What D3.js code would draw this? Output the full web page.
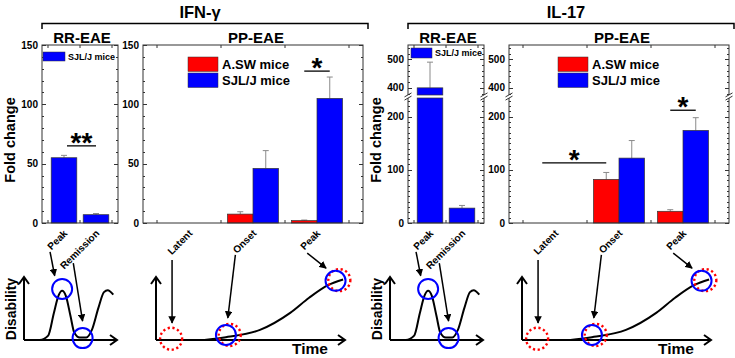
<!DOCTYPE html>
<html>
<head>
<meta charset="utf-8">
<script src="https://cdn.jsdelivr.net/npm/d3@7"></script>
<style>
  body { margin: 0; background: #fff; }
  svg text { font-family: "Liberation Sans", Arial, sans-serif; font-weight: bold; fill: #000; }
</style>
</head>
<body>
<div id="chart"></div>
<script>
// categories
const rrCategories = ["Peak", "Remission"];
const ppCategories = ["Latent", "Onset", "Peak"];
const strains = ["A.SW mice", "SJL/J mice"];

// IFN-gamma fold change (mean, upper error)
const ifnRR = [55, 7];
const ifnRRErr = [2, 1];
const ifnPPASW = [null, 7.5, 2];
const ifnPPASWErr = [null, 2, 0.5];
const ifnPPSJL = [null, 46, 105];
const ifnPPSJLErr = [null, 15, 18];

// IL-17 fold change (mean, upper error)
const ilRR = [400, 28];
const ilRRErr = [90, 5];
const ilPPASW = [null, 82, 22];
const ilPPASWErr = [null, 13, 3];
const ilPPSJL = [null, 122, 174];
const ilPPSJLErr = [null, 33, 24];

// tick labels
const ifnTicks = [0, 50, 100, 150];
const ilLowTicks = [0, 100, 200];
const ilHighTicks = [400, 500];

// significance: [from category, strain index, to category, strain index, value, label]
const ifnRRSig = [["Peak", 0, "Remission", 0, 65, "**"]];
const ifnPPSig = [["Peak", 0, "Peak", 1, 128, "*"]];
const ilPPSig = [["Latent", 0, "Onset", 0, 113, "*"], ["Peak", 0, "Peak", 1, 212, "*"]];

// disease course sketches, in (time, disability) units 0..10
const rrCurve = [[0, 0], [1.7, 0], [2.6, 0.7], [3.2, 4.2], [3.7, 7], [4.1, 7.8], [4.5, 7], [5, 3.8],
                 [5.4, 1.2], [6, 0.4], [6.7, 0.4], [7.3, 1.6], [8, 5.1], [8.6, 7.6], [9, 7.9], [9.6, 7.2]];
const ppCurve = [[0, 0], [2.3, 0], [3.8, 0.5], [5.5, 1.6], [7.1, 4.3], [8.1, 6.7], [9.1, 8.7], [9.9, 9.6]];
const rrArrows = [[2.8, 14, 3.3, 10.2], [5.3, 12.2, 6.3, 3.0]];
const rrSJLCircles = [[4.1, 8.1], [6.3, 0.3]];
const ppArrows = [[0.85, 12.7, 0.85, 2.7], [4.2, 13.5, 3.8, 3.5], [8.0, 13.8, 9.0, 11.4]];
const ppSJLCircles = [[3.7, 0.8], [9.5, 9.4]];
const ppASWCircles = [[0.8, 0.2], [3.9, 0.8], [9.7, 9.5]];

const width = 735, height = 358;
const plotTop = 45, plotBottom = 223;
const red = "#ff0000", blue = "#0000ff";

const svg = d3.select("#chart").append("svg")
  .attr("width", width)
  .attr("height", height);

svg.append("defs").append("marker")
  .attr("id", "head")
  .attr("viewBox", "0 0 10 10")
  .attr("refX", 9).attr("refY", 5)
  .attr("markerWidth", 5).attr("markerHeight", 5)
  .attr("orient", "auto")
  .append("path")
  .attr("d", "M0,0L10,5L0,10z")
  .attr("fill", "#000");

//Y scales: single for IFN, broken for IL-17
function linearY() {
  const s = d3.scaleLinear().domain([0, 150]).range([plotBottom, plotTop]);
  return {
    pos: v => s(v),
    segs: v => [[s(v), s(0)]],
    ticks: [{ scale: s, major: ifnTicks, minor: d3.range(0, 151, 10) }],
    breakAt: null
  };
}

function brokenY() {
  const lo = d3.scaleLinear().domain([0, 235]).range([plotBottom, 98]);
  const hi = d3.scaleLinear().domain([375, 550]).range([95, plotTop]);
  return {
    pos: v => v <= 235 ? lo(v) : hi(v),
    segs: v => v <= 235 ? [[lo(v), lo(0)]] : [[lo(235), lo(0)], [hi(v), hi(375)]],
    ticks: [
      { scale: lo, major: ilLowTicks, minor: d3.range(0, 231, 10) },
      { scale: hi, major: ilHighTicks, minor: d3.range(380, 541, 20) }
    ],
    breakAt: 96.5
  };
}

function drawPanel(p) {
  const g = svg.append("g");
  const x = d3.scaleBand().domain(p.cats).range(p.band);
  if (p.series.length === 1) x.paddingInner(0.2).paddingOuter(0.1);
  const step = x.step();
  const xs = d3.scaleBand()
    .domain(d3.range(p.series.length))
    .range(p.series.length === 1 ? [0, x.bandwidth()] : [6.5, step - 6.5]);
  const center = c => x(c) + x.bandwidth() / 2;
  const barMid = (c, i) => x(c) + xs(i) + xs.bandwidth() / 2;

  //bars
  p.series.forEach((s, i) => {
    const data = p.cats.map((c, j) => ({ c, v: s.values[j], e: s.errs[j] }))
      .filter(d => d.v != null);

    //error bars (upper only)
    const err = g.append("g").attr("stroke", "#8a8a8a").attr("stroke-width", 1);
    err.selectAll("line.v").data(data).join("line")
      .attr("class", "v")
      .attr("x1", d => barMid(d.c, i)).attr("x2", d => barMid(d.c, i))
      .attr("y1", d => p.y.pos(d.v)).attr("y2", d => p.y.pos(d.v + d.e));
    err.selectAll("line.cap").data(data).join("line")
      .attr("class", "cap")
      .attr("x1", d => barMid(d.c, i) - 3).attr("x2", d => barMid(d.c, i) + 3)
      .attr("y1", d => p.y.pos(d.v + d.e)).attr("y2", d => p.y.pos(d.v + d.e));

    const segs = data.flatMap(d => p.y.segs(d.v).map(sg => ({ c: d.c, y0: sg[0], y1: sg[1] })));
    g.selectAll(null).data(segs).join("rect")
      .attr("x", d => x(d.c) + xs(i))
      .attr("width", xs.bandwidth())
      .attr("y", d => d.y0)
      .attr("height", d => Math.max(0.8, d.y1 - d.y0))
      .attr("fill", s.color)
      .attr("stroke", "#333")
      .attr("stroke-width", 0.7);
  });

  //frame
  const [x0, x1] = p.box;
  g.append("rect")
    .attr("x", x0).attr("y", plotTop)
    .attr("width", x1 - x0).attr("height", plotBottom - plotTop)
    .attr("fill", "none")
    .attr("stroke", "#333")
    .attr("stroke-width", 1);

  //inward ticks on left and right
  const tk = g.append("g").attr("stroke", "#333").attr("stroke-width", 1);
  p.y.ticks.forEach(t => {
    t.minor.forEach(v => {
      const len = t.major.includes(v) ? 4 : 2;
      const yy = Math.round(t.scale(v)) + 0.5;
      tk.append("line").attr("x1", x0).attr("x2", x0 + len).attr("y1", yy).attr("y2", yy);
      tk.append("line").attr("x1", x1).attr("x2", x1 - len).attr("y1", yy).attr("y2", yy);
    });
    g.selectAll(null).data(t.major).join("text")
      .attr("x", x0 - 4)
      .attr("y", v => t.scale(v) + 3.5)
      .attr("text-anchor", "end")
      .attr("font-size", 10)
      .text(v => v);
  });

  //ticks on category boundaries, top and bottom
  const bounds = d3.range(p.cats.length + 1).map(i => p.band[0] + i * step);
  bounds.forEach(b => {
    tk.append("line").attr("x1", b).attr("x2", b).attr("y1", plotTop).attr("y2", plotTop + 3);
    tk.append("line").attr("x1", b).attr("x2", b).attr("y1", plotBottom).attr("y2", plotBottom - 3);
  });

  //axis break marks
  if (p.y.breakAt) {
    [x0, x1].forEach(xx => {
      g.append("rect")
        .attr("x", xx - 2).attr("y", p.y.breakAt - 1.5)
        .attr("width", 4).attr("height", 3)
        .attr("fill", "#fff");
      [-1.6, 1.6].forEach(dy => {
        g.append("line")
          .attr("x1", xx - 3.5).attr("y1", p.y.breakAt + dy + 2)
          .attr("x2", xx + 3.5).attr("y2", p.y.breakAt + dy - 2)
          .attr("stroke", "#333").attr("stroke-width", 1);
      });
    });
  }

  //category labels
  g.selectAll(null).data(p.cats).join("text")
    .attr("transform", c => `translate(${center(c) + 4},234) rotate(-45)`)
    .attr("text-anchor", "end")
    .attr("font-size", 10)
    .text(c => c);

  //panel title
  g.append("text")
    .attr("x", (x0 + x1) / 2 + p.titleDx)
    .attr("y", 43)
    .attr("text-anchor", "middle")
    .attr("font-size", 15)
    .text(p.title);

  //legend
  const L = p.legend;
  p.series.forEach((s, i) => {
    g.append("rect")
      .attr("x", L.x).attr("y", L.y + i * L.dy)
      .attr("width", L.w).attr("height", L.h)
      .attr("fill", s.color)
      .attr("stroke", "#333").attr("stroke-width", 0.5);
    g.append("text")
      .attr("x", L.x + L.w + L.gap)
      .attr("y", L.y + i * L.dy + L.h / 2 + L.fs * 0.36)
      .attr("font-size", L.fs)
      .text(s.name);
  });

  //significance
  const fs = 28;
  p.sig.forEach(([c0, i0, c1, i1, v, lab]) => {
    const a = p.series.length === 1 ? center(c0) + 3 : barMid(c0, i0);
    const b = p.series.length === 1 ? center(c1) : barMid(c1, i1);
    const yy = p.y.pos(v);
    g.append("line")
      .attr("x1", a).attr("x2", b).attr("y1", yy).attr("y2", yy)
      .attr("stroke", "#000").attr("stroke-width", 1.3);
    g.append("text")
      .attr("x", (a + b) / 2)
      .attr("y", yy - 6 + fs * 0.43)
      .attr("text-anchor", "middle")
      .attr("font-size", fs)
      .text(lab);
  });

  //y title
  if (p.yTitle) {
    g.append("text")
      .attr("transform", `translate(${x0 - 27},140) rotate(-90)`)
      .attr("text-anchor", "middle")
      .attr("font-size", 14.5)
      .text("Fold change");
  }
}

function drawSketch(x0, x1, curve, arrows, sjl, asw, withTime) {
  const g = svg.append("g");
  const t = d3.scaleLinear().domain([0, 10]).range([x0, x1]);
  const d = d3.scaleLinear().domain([0, 10]).range([340, 277]);

  //axes with open arrowheads
  g.append("path")
    .attr("d", `M${x0},${d(0)}V${d(10)}M${x0},${d(0)}H${x1}` +
      `M${x0 - 5},${d(10) + 7}L${x0},${d(10)}L${x0 + 5},${d(10) + 7}` +
      `M${x1 - 7},${d(0) - 5}L${x1},${d(0)}L${x1 - 7},${d(0) + 5}`)
    .attr("fill", "none")
    .attr("stroke", "#000")
    .attr("stroke-width", 2);

  g.append("path")
    .datum(curve)
    .attr("d", d3.line().x(p => t(p[0])).y(p => d(p[1])).curve(d3.curveMonotoneX))
    .attr("fill", "none")
    .attr("stroke", "#000")
    .attr("stroke-width", 2);

  g.selectAll(null).data(asw).join("circle")
    .attr("cx", p => t(p[0])).attr("cy", p => d(p[1]))
    .attr("r", 11)
    .attr("fill", "none")
    .attr("stroke", red)
    .attr("stroke-width", 2.4)
    .attr("stroke-dasharray", "2.2 2.6");

  g.selectAll(null).data(sjl).join("circle")
    .attr("cx", p => t(p[0])).attr("cy", p => d(p[1]))
    .attr("r", 10)
    .attr("fill", "none")
    .attr("stroke", blue)
    .attr("stroke-width", 2);

  g.selectAll(null).data(arrows).join("line")
    .attr("x1", a => t(a[0])).attr("y1", a => d(a[1]))
    .attr("x2", a => t(a[2])).attr("y2", a => d(a[3]))
    .attr("stroke", "#000")
    .attr("stroke-width", 1.5)
    .attr("marker-end", "url(#head)");

  if (withTime) {
    g.append("text")
      .attr("x", x1 - 35).attr("y", 354)
      .attr("text-anchor", "middle")
      .attr("font-size", 15.5)
      .text("Time");
  } else {
    g.append("text")
      .attr("transform", `translate(${x0 - 8},309) rotate(-90)`)
      .attr("text-anchor", "middle")
      .attr("font-size", 14)
      .text("Disability");
  }
}

function drawHalf(off, title, y, rr, rrErr, ppA, ppAErr, ppS, ppSErr, rrSig, ppSig, leg) {
  //group title and bracket
  svg.append("text")
    .attr("x", 200 + off).attr("y", 18)
    .attr("text-anchor", "middle")
    .attr("font-size", 16.5)
    .text(title);
  svg.append("path")
    .attr("d", `M${42 + off},29V23.5H${368 + off}V29`)
    .attr("fill", "none")
    .attr("stroke", "#000")
    .attr("stroke-width", 1.5);

  drawPanel({
    box: [42 + off, 118 + off], band: [48 + off, 112 + off],
    cats: rrCategories, y, title: "RR-EAE", titleDx: 2, yTitle: true,
    series: [{ name: strains[1], values: rr, errs: rrErr, color: blue }],
    legend: leg.rr, sig: rrSig
  });
  drawPanel({
    box: [143 + off, 363 + off], band: [157 + off, 349 + off],
    cats: ppCategories, y, title: "PP-EAE", titleDx: 3, yTitle: false,
    series: [
      { name: strains[0], values: ppA, errs: ppAErr, color: red },
      { name: strains[1], values: ppS, errs: ppSErr, color: blue }
    ],
    legend: leg.pp, sig: ppSig
  });

  drawSketch(24 + off, 117 + off, rrCurve, rrArrows, rrSJLCircles, [], false);
  drawSketch(156 + off, 345 + off, ppCurve, ppArrows, ppSJLCircles, ppASWCircles, true);
}

drawHalf(0, "IFN-\u03b3", linearY(),
  ifnRR, ifnRRErr, ifnPPASW, ifnPPASWErr, ifnPPSJL, ifnPPSJLErr, ifnRRSig, ifnPPSig,
  {
    rr: { x: 43, y: 52, w: 22, h: 9, dy: 0, gap: 3, fs: 9 },
    pp: { x: 188, y: 57, w: 30, h: 14.5, dy: 16, gap: 4, fs: 13 }
  });

drawHalf(366, "IL-17", brokenY(),
  ilRR, ilRRErr, ilPPASW, ilPPASWErr, ilPPSJL, ilPPSJLErr, [], ilPPSig,
  {
    rr: { x: 411, y: 48, w: 21, h: 10, dy: 0, gap: 3, fs: 9 },
    pp: { x: 558, y: 57, w: 30, h: 14.5, dy: 16, gap: 4, fs: 13 }
  });
</script>
</body>
</html>
